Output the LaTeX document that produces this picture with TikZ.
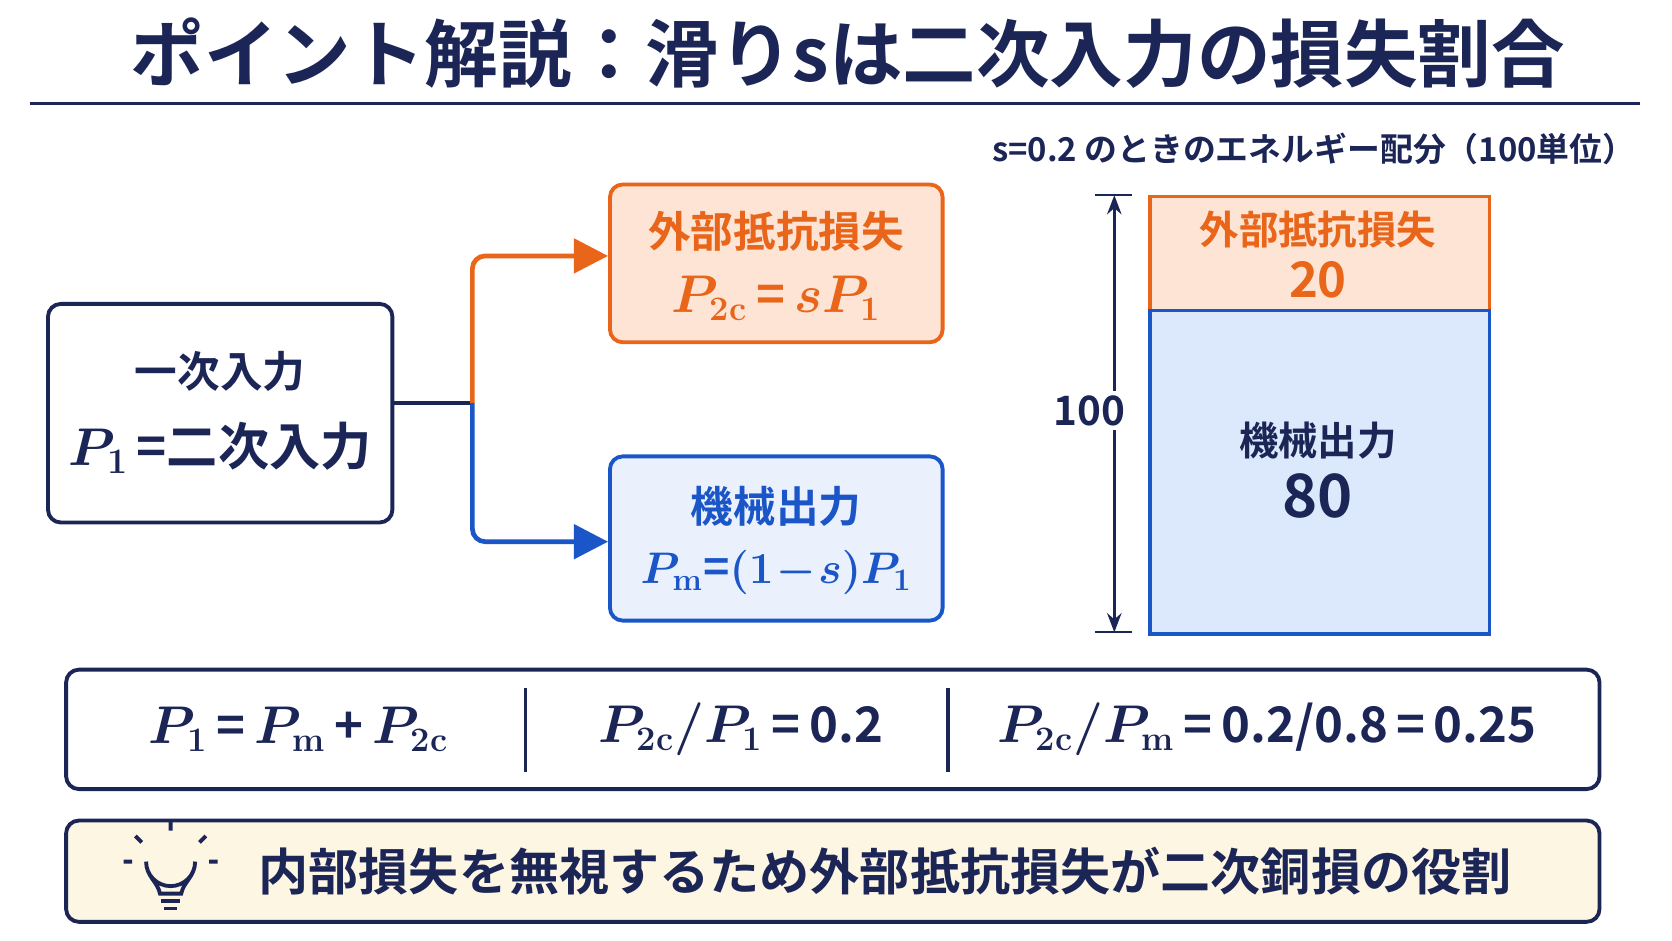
\documentclass[tikz,border=0pt]{standalone}
\usepackage{amsmath,bm}
\usepackage{fontspec}
\setmainfont{Noto Sans CJK JP}[BoldFont={Noto Sans CJK JP Bold}]
\newfontfamily\lmr{Latin Modern Roman}
\usetikzlibrary{arrows.meta}
\definecolor{navy}{HTML}{1B2556}
\definecolor{org}{HTML}{E8651A}
\definecolor{orgf}{HTML}{FDE4D4}
\definecolor{blu}{HTML}{1A56C8}
\definecolor{bluf}{HTML}{DCE8FB}
\definecolor{cream}{HTML}{FDF6E3}
\newcommand{\fs}[1]{\fontsize{#1}{#1}\selectfont}
\newcommand{\PP}[1]{\bm{P}_{\text{\lmr\bfseries #1}}}
\newcommand{\eq}{\,\text{\bfseries =}\,}
\begin{document}
\begin{tikzpicture}[x=0.5pt,y=-0.5pt,
  box/.style={draw=navy,line width=1.8pt,rounded corners=6pt},
  t/.style={font=\bfseries\fs{20}},
  m/.style={font=\fs{23}}]
\fill[white] (0,0) rectangle (1568,882);
\node[text=navy,font=\bfseries\fs{34.5}] (title) at (795,50) {ポイント解説：滑りsは二次入力の損失割合};
\draw[navy,line width=1.5pt] (28,97) -- (1538,97);
% left box
\node[box,minimum width=161.5pt,minimum height=102.5pt] (L) at (206.5,387.5) {};
\node[t,text=navy] (l1) at (206.5,348) {一次入力};
\node[font=\fs{24},text=navy] (l2) at (206.5,420) {$\PP{1}$\,\bfseries=二次入力};
% right boxes
\node[draw=org,fill=orgf,line width=1.8pt,rounded corners=6pt,minimum width=156pt,minimum height=74pt] (O) at (728,247) {};
\node[t,text=org] (o1) at (728,217) {外部抵抗損失};
\node[m,text=org] (o2) at (728,280) {$\PP{2c}\eq \bm{s}\PP{1}$};
\node[draw=blu,fill=bluf!60,line width=1.8pt,rounded corners=6pt,minimum width=156pt,minimum height=77pt] (B) at (728,505) {};
\node[t,text=blu] (b1) at (728,475) {機械出力};
\node[font=\fs{21},text=blu] (b2) at (728,537) {$\PP{m}\!\eq\!\bm{(1\!-\!s)}\PP{1}$};
\coordinate (J) at (443,378);
\draw[navy,line width=2pt] (L.east|-J) -- (J);
\draw[org,line width=2.2pt,rounded corners=6pt,-{Triangle[length=16pt,width=16pt]}] (J) -- (443,240) -- (O.west|-0,240);
\draw[blu,line width=2.2pt,rounded corners=6pt,-{Triangle[length=16pt,width=16pt]}] (J) -- (443,508) -- (B.west|-0,508);
% right chart
\node[text=navy,font=\bfseries\fs{15.4}] (ct) at (1232,140) {s=0.2 のときのエネルギー配分（100単位）};
\node[draw=org,fill=orgf,line width=1.5pt,minimum width=159pt,minimum height=53.5pt,anchor=north west] (R1) at (1077,183) {};
\node[draw=blu,fill=bluf,line width=1.5pt,minimum width=159pt,minimum height=151.5pt,anchor=north west] (R2) at (1077,290) {};
\node[font=\bfseries\fs{18.5},text=org] at (1236,215) {外部抵抗損失};
\node[text=org,font=\bfseries\fs{23}] at (1236,262) {20};
\node[font=\bfseries\fs{18.5},text=navy] at (1236,413) {機械出力};
\node[text=navy,font=\bfseries\fs{28}] at (1236,465) {80};
\coordinate (d1) at (1045,183); \coordinate (d2) at (1045,593);
\draw[navy,line width=1pt] (1027,183)--(1062,183) (1027,593)--(1062,593);
\draw[navy,line width=1.2pt,{Stealth[length=9pt]}-{Stealth[length=9pt]}] (d1) -- (d2);
\node[fill=white,text=navy,font=\bfseries\fs{19},inner sep=2pt] (hund) at (1022,385) {100};
% formula box
\node[box,minimum width=719pt,minimum height=56pt] (F) at (781,684) {};
\draw[navy,line width=1.5pt] (493,645)--(493,724) (889,645)--(889,724);
\node[m,text=navy] at (280,684) {$\PP{1} \eq \PP{m} \,\text{\bfseries +}\, \PP{2c}$};
\node[m,text=navy] at (695,684) {$\PP{2c}\bm{/}\PP{1} \eq$\textbf{0.2}};
\node[m,text=navy] at (1188,684) {$\PP{2c}\bm{/}\PP{m} \eq$\textbf{0.2/0.8\,=\,0.25}};
% note box
\node[box,fill=cream,minimum width=719pt,minimum height=47.5pt] (N) at (781,817) {};
\node[text=navy,font=\bfseries\fs{23.5}] at (830,817) {内部損失を無視するため外部抵抗損失が二次銅損の役割};
\begin{scope}[navy,line width=1.8pt]
\draw (150,838) .. controls (148,827) and (137,822) .. (137,808) arc[start angle=180,end angle=0,radius=23] .. controls (183,822) and (172,827) .. (170,838) -- cycle;
\draw (151,845)--(169,845) (154,852)--(166,852);
\draw (160,779)--(160,771) (133,790)--(127,784) (187,790)--(193,784) (124,808)--(116,808) (196,808)--(204,808);
\end{scope}
\pgfresetboundingbox
\path[use as bounding box] (0,0) rectangle (1568,882);
\end{tikzpicture}
\end{document}
